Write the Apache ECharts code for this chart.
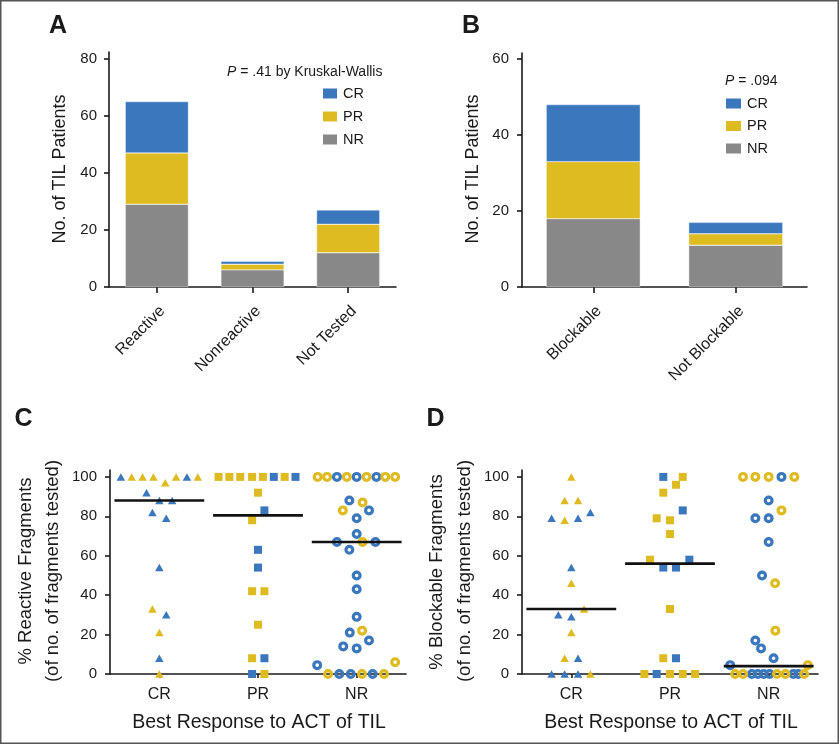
<!DOCTYPE html>
<html><head><meta charset="utf-8">
<script src="https://cdn.jsdelivr.net/npm/echarts@6/dist/echarts.min.js"></script>
<style>html,body{margin:0;padding:0;background:#fff}#c{width:839px;height:745px}</style>
</head><body><div id="c"></div>
<script>
// ---------- DATA ----------
const barCatsA = ['Reactive', 'Nonreactive', 'Not Tested'];
const barA_NR = [29, 6, 12];
const barA_PR = [18, 2, 10];
const barA_CR = [18, 1, 5];
const barCatsB = ['Blockable', 'Not Blockable'];
const barB_NR = [18, 11];
const barB_PR = [15, 3];
const barB_CR = [15, 3];
const respCats = ['CR', 'PR', 'NR'];
const yTicksA = [0, 20, 40, 60, 80];
const yTicksB = [0, 20, 40, 60];
const yTicksCD = [0, 20, 40, 60, 80, 100];
// [offset within category (beeswarm), percent, cohort B=blue / Y=yellow]
const reactCR = [[-0.39,100,'B'],[-0.28,100,'Y'],[-0.17,100,'Y'],[-0.06,100,'Y'],[0.06,97,'Y'],[0.17,100,'Y'],[0.28,100,'B'],[0.39,100,'Y'],
  [-0.13,92,'B'],[0,88,'B'],[0.13,88,'B'],[-0.07,82,'B'],[0.07,79,'B'],[0,54,'B'],[-0.07,33,'Y'],[0.07,30,'B'],[0,21,'Y'],[0,8,'B'],[0,0,'Y']];
const reactPR = [[-0.4,100,'Y'],[-0.29,100,'Y'],[-0.18,100,'Y'],[-0.06,100,'Y'],[0.05,100,'Y'],[0.16,100,'B'],[0.27,100,'Y'],[0.38,100,'B'],
  [0,92,'Y'],[0.065,83,'B'],[-0.06,78,'Y'],[0,63,'B'],[0,54,'B'],[-0.06,42,'Y'],[0.065,42,'Y'],[0,25,'Y'],[-0.06,8,'Y'],[0.065,8,'B'],[-0.06,0,'B'],[0.065,0,'Y']];
const reactNR = [[-0.395,100,'Y'],[-0.3,100,'Y'],[-0.2,100,'B'],[-0.1,100,'Y'],[0,100,'B'],[0.1,100,'Y'],[0.2,100,'B'],[0.29,100,'Y'],[0.39,100,'Y'],
  [-0.074,88,'B'],[0.06,87,'Y'],[-0.14,83,'Y'],[0.125,83,'B'],[0,79,'B'],[0,71,'B'],[-0.2,67,'B'],[0.06,67,'Y'],[0.19,67,'B'],[-0.074,63,'B'],
  [0,50,'B'],[0,43,'B'],[0,29,'B'],[-0.07,21,'B'],[0.055,22,'Y'],[0.125,17,'B'],[-0.136,14,'B'],[0,13,'B'],[-0.4,4.5,'B'],[0.39,6,'Y'],
  [-0.29,0,'Y'],[-0.176,0,'B'],[-0.06,0,'B'],[0.054,0,'Y'],[0.162,0,'B'],[0.277,0,'Y']];
const blockCR = [[0,100,'Y'],[-0.068,88,'Y'],[0.068,88,'Y'],[-0.2,79,'B'],[-0.068,78,'Y'],[0.068,79,'B'],[0.193,82,'B'],[0,54,'B'],[0,46,'Y'],
  [-0.132,30,'B'],[0,29,'B'],[0.129,33,'Y'],[0,21,'Y'],[-0.068,8,'Y'],[0.068,8,'B'],[-0.2,0,'B'],[-0.068,0,'B'],[0.068,0,'B'],[0.193,0,'Y']];
const blockPR = [[-0.068,100,'B'],[0.129,100,'Y'],[0.061,96,'Y'],[-0.068,92,'Y'],[0.129,83,'B'],[-0.135,79,'Y'],[0,78,'Y'],[0,71,'Y'],
  [-0.203,58,'Y'],[0.196,58,'B'],[-0.068,54,'B'],[0.061,54,'B'],[0,33,'Y'],[-0.068,8,'Y'],[0.061,8,'B'],
  [-0.26,0,'Y'],[-0.135,0,'B'],[0,0,'Y'],[0.129,0,'Y'],[0.254,0,'Y']];
const blockNR = [[-0.26,100,'Y'],[-0.135,100,'Y'],[0,100,'Y'],[0.13,100,'B'],[0.26,100,'Y'],
  [0,88,'B'],[0.13,83,'Y'],[-0.135,79,'B'],[0,79,'B'],[0,67,'B'],[-0.067,50,'B'],[0.065,46,'Y'],[0.068,22,'Y'],
  [-0.135,17,'B'],[-0.077,13,'B'],[0.05,8,'B'],[-0.39,4.5,'B'],[0.397,4.5,'Y'],
  [-0.34,0,'Y'],[-0.26,0,'Y'],[-0.17,0,'B'],[-0.11,0,'B'],[-0.05,0,'B'],[0.01,0,'B'],[0.085,0,'Y'],[0.17,0,'Y'],[0.25,0,'B'],[0.3,0,'B'],[0.36,0,'Y']];
const reactMedians = [88, 80.5, 67];
const blockMedians = [33, 56, 4];

// ---------- STYLE ----------
const FONT = '"Liberation Sans", Arial, Helvetica, sans-serif';
const BLUE = '#3a77bd', YELLOW = '#dfbb22', GRAY = '#888888', INK = '#1a1a1a';
const colorOf = c => c === 'B' ? BLUE : YELLOW;

function yAxisCfg(grid, max, ticks, margin) {
  return {
    type: 'value', gridIndex: grid, min: 0, max: max,
    axisLine: { show: true, lineStyle: { color: INK, width: 1.6 } },
    axisTick: { show: true, length: 5, customValues: ticks, lineStyle: { color: INK, width: 1.6 } },
    axisLabel: { customValues: ticks, margin: margin, color: INK, fontSize: 15, fontFamily: FONT },
    splitLine: { show: false }
  };
}
function catAxis(grid, data, rotate, tickLen, margin, fs) {
  const lab = { rotate: rotate, margin: margin, color: INK, fontSize: fs, fontFamily: FONT, interval: 0 };
  if (rotate) lab.verticalAlign = 'top';
  return {
    type: 'category', gridIndex: grid, data: data, boundaryGap: true,
    axisLine: { show: true, lineStyle: { color: INK, width: 1.6 } },
    axisTick: { show: true, alignWithLabel: true, length: tickLen, lineStyle: { color: INK, width: 1.6 } },
    axisLabel: lab,
    splitLine: { show: false }
  };
}
function valX(grid) {
  return { type: 'value', gridIndex: grid, min: 0.5, max: 3.5, show: false, splitLine: { show: false } };
}

const series = [];
function bars(names, arrs, colors, xi, yi, stack) {
  names.forEach((n, k) => series.push({
    name: n, type: 'bar', stack: stack, xAxisIndex: xi, yAxisIndex: yi, barWidth: '66%',
    data: arrs[k], itemStyle: { color: colors[k], borderColor: '#fff', borderWidth: 0.4 }
  }));
}
bars(['NR', 'PR', 'CR'], [barA_NR, barA_PR, barA_CR], [GRAY, YELLOW, BLUE], 0, 0, 'a');
bars(['NR', 'PR', 'CR'], [barB_NR, barB_PR, barB_CR], [GRAY, YELLOW, BLUE], 1, 1, 'b');

const shapes = [
  { symbol: 'triangle', size: [8.5, 7.5], ring: false },
  { symbol: 'rect', size: 8, ring: false },
  { symbol: 'circle', size: 6.8, ring: true }
];
function swarm(tag, groups, xi, yi) {
  groups.forEach((pts, gi) => {
    ['B', 'Y'].forEach(c => {
      const sh = shapes[gi];
      series.push({
        name: tag + gi + c, type: 'scatter', xAxisIndex: xi, yAxisIndex: yi,
        symbol: sh.symbol, symbolSize: sh.size, z: 4,
        data: pts.filter(p => p[2] === c).map(p => [gi + 1 + p[0], p[1]]),
        itemStyle: sh.ring ? { color: 'rgba(0,0,0,0)', borderColor: colorOf(c), borderWidth: 3.2, opacity: 1 }
                           : { color: colorOf(c), opacity: 1 }
      });
    });
  });
}
swarm('react', [reactCR, reactPR, reactNR], 3, 2);
swarm('block', [blockCR, blockPR, blockNR], 5, 3);

const HW = 0.455;
function medians(tag, meds, xi, yi) {
  meds.forEach((m, i) => series.push({
    name: tag + 'med' + i, type: 'line', xAxisIndex: xi, yAxisIndex: yi, symbol: 'none', z: 5,
    data: [[i + 1 - HW, m], [i + 1 + HW, m]], lineStyle: { color: '#111', width: 2.6 }
  }));
}
medians('react', reactMedians, 3, 2);
medians('block', blockMedians, 5, 3);

function txt(x, y, text, size, opts) {
  return Object.assign({
    type: 'text', x: x, y: y, z: 10,
    style: Object.assign({ text: text, fontSize: size, fontFamily: FONT, fill: INK, align: 'center', verticalAlign: 'middle' }, (opts && opts.style) || {})
  }, (opts && opts.el) || {});
}
const rot = { el: { rotation: Math.PI / 2 } };

const option = {
  backgroundColor: '#fff',
  animation: false,
  grid: [
    { left: 109, top: 52, width: 287, height: 235 },
    { left: 522, top: 53, width: 285, height: 234 },
    { left: 110, top: 470, width: 296, height: 204 },
    { left: 522, top: 470, width: 296, height: 204 }
  ],
  xAxis: [
    catAxis(0, barCatsA, 45, 6, 16, 16),
    catAxis(1, barCatsB, 45, 6, 16, 16),
    catAxis(2, respCats, 0, 4, 13, 16),
    valX(2),
    catAxis(3, respCats, 0, 4, 13, 16),
    valX(3)
  ],
  yAxis: [
    yAxisCfg(0, 82.4, yTicksA, 12),
    yAxisCfg(1, 61.6, yTicksB, 13),
    yAxisCfg(2, 103.5, yTicksCD, 13),
    yAxisCfg(3, 103.5, yTicksCD, 13)
  ],
  legend: [
    { data: ['CR', 'PR', 'NR'], left: 321, top: 86, padding: 0, orient: 'vertical', icon: 'rect', itemWidth: 16, itemHeight: 12, itemGap: 8,
      selectedMode: false, textStyle: { fontSize: 14.5, color: INK, fontFamily: FONT } },
    { data: ['CR', 'PR', 'NR'], left: 724, top: 96, padding: 0, orient: 'vertical', icon: 'rect', itemWidth: 17, itemHeight: 12, itemGap: 7.5,
      selectedMode: false, textStyle: { fontSize: 14.5, color: INK, fontFamily: FONT } }
  ],
  graphic: [
    { type: 'rect', shape: { x: 0.75, y: 0.75, width: 837.5, height: 742.5 }, style: { fill: 'none', stroke: '#555', lineWidth: 1.5 }, z: 10 },
    txt(58, 26, 'A', 25, { style: { fontWeight: 'bold' } }),
    txt(471, 26, 'B', 25, { style: { fontWeight: 'bold' } }),
    txt(23.5, 419, 'C', 25, { style: { fontWeight: 'bold' } }),
    txt(435.5, 419, 'D', 25, { style: { fontWeight: 'bold' } }),
    txt(60, 169, 'No. of TIL Patients', 18, rot),
    txt(473, 169, 'No. of TIL Patients', 18, rot),
    txt(26, 571, '% Reactive Fragments', 18.5, rot),
    txt(52.5, 571, '(of no. of fragments tested)', 18.5, rot),
    txt(437, 572, '% Blockable Fragments', 18.5, rot),
    txt(465, 571, '(of no. of fragments tested)', 18.5, rot),
    txt(259, 723, 'Best Response to ACT of TIL', 19.5),
    txt(671, 723, 'Best Response to ACT of TIL', 19.5),
    txt(227, 72, '{i|P} = .41 by Kruskal-Wallis', 14, { style: { align: 'left', rich: { i: { fontStyle: 'italic', fontSize: 14, fontFamily: FONT, fill: INK } } } }),
    txt(725, 81, '{i|P} = .094', 14, { style: { align: 'left', rich: { i: { fontStyle: 'italic', fontSize: 14, fontFamily: FONT, fill: INK } } } })
  ],
  series: series
};
const chart = echarts.init(document.getElementById('c'), null, { renderer: 'canvas' });
chart.setOption(option);
</script>
</body></html>
